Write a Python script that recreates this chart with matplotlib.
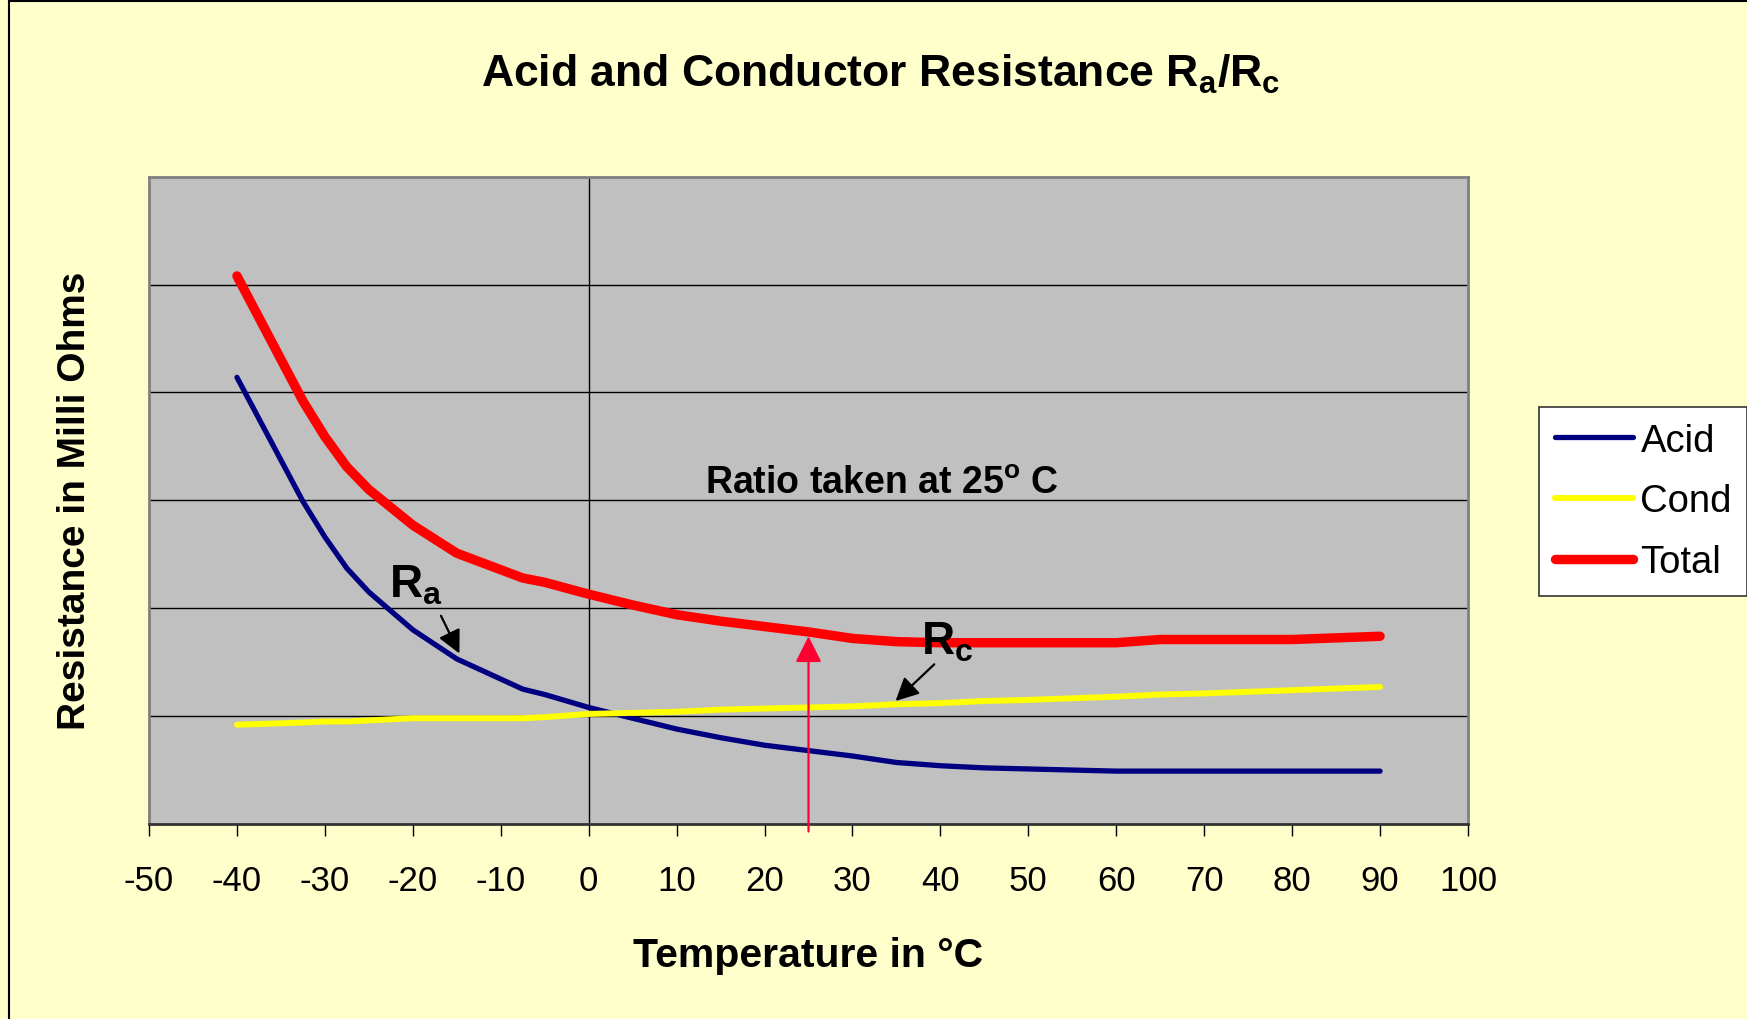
import matplotlib
matplotlib.use('Agg')
import matplotlib.pyplot as plt
from matplotlib.patches import Rectangle

# temperatures (deg C) and resistance readings (arbitrary milli-ohm units)
temps = [-40, -32.5, -30, -27.5, -25, -20, -15, -7.5, -5, 0, 5, 10, 15, 20, 25,
         30, 35, 40, 45, 50, 60, 65, 70, 80, 90]
acid = [41.4, 29.9, 26.6, 23.7, 21.5, 18.0, 15.3, 12.5, 12.0, 10.8, 9.8, 8.8, 8.0, 7.3, 6.8,
        6.3, 5.7, 5.4, 5.2, 5.1, 4.9, 4.9, 4.9, 4.9, 4.9]
cond = [9.2, 9.4, 9.5, 9.5, 9.6, 9.8, 9.8, 9.8, 9.9, 10.2, 10.3, 10.4, 10.6, 10.7, 10.8,
        10.9, 11.1, 11.2, 11.4, 11.5, 11.8, 12.0, 12.1, 12.4, 12.7]
total = [50.8, 39.2, 35.9, 33.1, 31.0, 27.7, 25.1, 22.8, 22.4, 21.3, 20.3, 19.4, 18.8, 18.3, 17.8,
         17.2, 16.9, 16.8, 16.8, 16.8, 16.8, 17.1, 17.1, 17.1, 17.4]
xticks = list(range(-50, 101, 10))
ygrid = [10, 20, 30, 40, 50]

plt.rcParams['font.family'] = ['Liberation Sans', 'DejaVu Sans']
plt.rcParams['mathtext.fontset'] = 'custom'
plt.rcParams['mathtext.rm'] = 'Liberation Sans'
plt.rcParams['mathtext.bf'] = 'Liberation Sans:bold'

fig = plt.figure(figsize=(17.47, 10.20), dpi=100, facecolor='#FFFFCC')
ax = fig.add_axes([0.0853, 0.1912, 0.7550, 0.6346])
ax.set_facecolor('#C0C0C0')

for g in ygrid:
    ax.axhline(g, color='black', lw=1.0, zorder=1)
ax.axvline(0, color='black', lw=1.0, zorder=1)

ax.plot(temps, acid, color='#000080', lw=3.8, label='Acid', zorder=3, solid_capstyle='round')
ax.plot(temps, cond, color='#FFFF00', lw=4.3, label='Cond', zorder=3, solid_capstyle='round')
ax.plot(temps, total, color='#FF0000', lw=6.8, label='Total', zorder=3, solid_capstyle='round')

ax.set_xlim(-50, 100)
ax.set_ylim(0, 60)
ax.set_xticks(xticks)
ax.set_xticklabels([str(t) for t in xticks])
ax.set_yticks([])
ax.tick_params(axis='x', length=8.6, width=1, pad=20, labelsize=25, direction='out')

for side in ['top', 'right', 'left']:
    ax.spines[side].set_color('#808080')
    ax.spines[side].set_linewidth(2)
ax.spines['bottom'].set_color('#333333')
ax.spines['bottom'].set_linewidth(2)

# annotations
ax.annotate('', xy=(25, 17.4), xytext=(25, -0.7),
            arrowprops=dict(arrowstyle='-|>,head_length=0.4,head_width=0.2', color='#FF0033',
                            lw=1.6, mutation_scale=40, shrinkA=0, shrinkB=0),
            annotation_clip=False, zorder=4)
ax.text(13.2, 30.7, r'Ratio taken at 25$^\mathbf{o}$ C', fontsize=27, fontweight='bold',
        ha='left', va='baseline')
ax.text(-22.7, 21.1, r'$\mathbf{R_a}$', fontsize=33, ha='left', va='baseline')
ax.annotate('', xy=(-14.7, 15.8), xytext=(-16.8, 19.3),
            arrowprops=dict(arrowstyle='-|>,head_length=0.4,head_width=0.2', color='black',
                            lw=1.6, mutation_scale=35, shrinkA=0, shrinkB=0))
ax.text(37.8, 15.8, r'$\mathbf{R_c}$', fontsize=33, ha='left', va='baseline')
ax.annotate('', xy=(34.9, 11.4), xytext=(39.3, 14.8),
            arrowprops=dict(arrowstyle='-|>,head_length=0.4,head_width=0.2', color='black',
                            lw=1.6, mutation_scale=35, shrinkA=0, shrinkB=0))

fig.text(0.504, 0.9147, r'Acid and Conductor Resistance $\mathbf{R_a/R_c}$', fontsize=32,
         fontweight='bold', ha='center', va='baseline')
fig.text(0.4628, 0.052, 'Temperature in °C', fontsize=29.5, fontweight='bold',
         ha='center', va='baseline')
fig.text(0.0427, 0.509, 'Resistance in Milli Ohms', fontsize=28, fontweight='bold',
         rotation=90, ha='center', va='center')

leg = ax.legend(loc='upper left', bbox_to_anchor=(0.8811, 0.5997), bbox_transform=fig.transFigure,
                borderaxespad=0, fontsize=27.5, fancybox=False, framealpha=1, facecolor='white',
                edgecolor='#333333', handlelength=2.05, handletextpad=0.2, borderpad=0.4,
                labelspacing=0.65)
leg.get_frame().set_linewidth(1.2)

# outer chart border (left and top edges visible)
fig.patches.append(Rectangle((9 / 1747, -0.1), 1.2, 1.1 - 2 / 1020, transform=fig.transFigure,
                             fill=False, edgecolor='black', lw=1.5))

fig.savefig('out.png', dpi=100, facecolor=fig.get_facecolor())
